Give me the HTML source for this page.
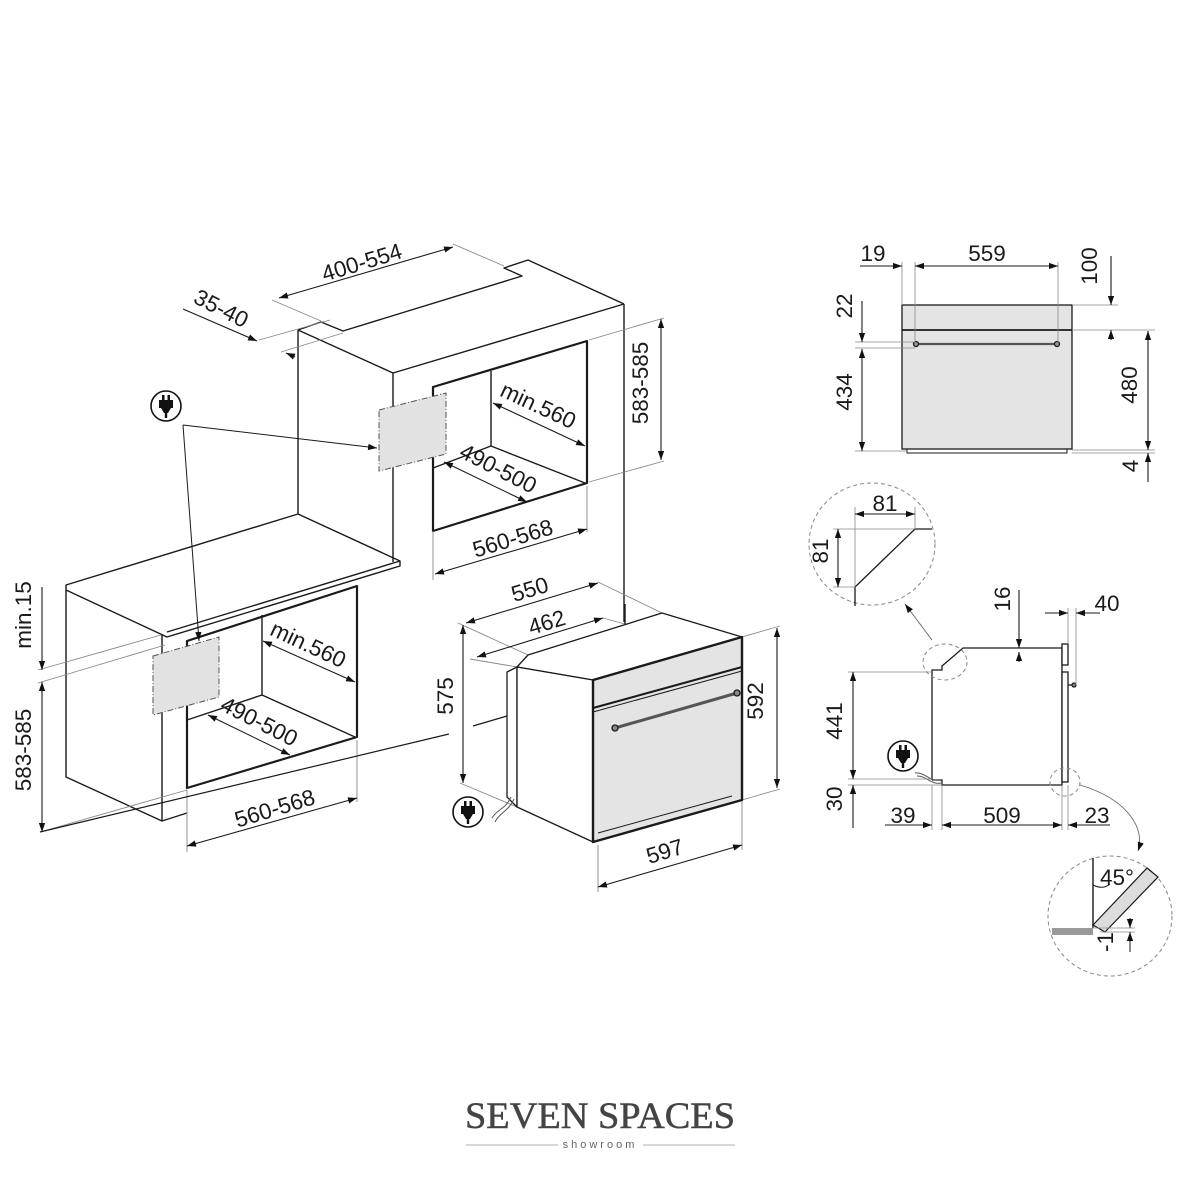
<!DOCTYPE html>
<html><head><meta charset="utf-8"><style>
html,body{margin:0;padding:0;background:#fff}
svg{display:block}
text{font-family:"Liberation Sans",sans-serif;fill:#1a1a1a}
.d{font-size:22.5px}
</style></head><body>
<svg width="1200" height="1200" viewBox="0 0 1200 1200" xmlns="http://www.w3.org/2000/svg">
<defs>
<marker id="a" viewBox="0 0 10 10" refX="10" refY="5" markerWidth="9" markerHeight="9" orient="auto-start-reverse" markerUnits="userSpaceOnUse"><path d="M0,1.5 L10,5 L0,8.5 z" fill="#111"/></marker>
<g id="plug"><circle r="15" fill="#fff" stroke="#111" stroke-width="1.6"/><rect x="-7" y="-6" width="14" height="8" fill="#111"/><rect x="-4" y="-11" width="2.5" height="6" fill="#111"/><rect x="1.5" y="-11" width="2.5" height="6" fill="#111"/><path d="M-5,2 L5,2 L2,7 L-2,7z" fill="#111"/><rect x="-1.2" y="6" width="2.4" height="6" fill="#111"/></g>
</defs>
<g fill="none" stroke="#1a1a1a" stroke-width="1.4" stroke-linejoin="round">
<polyline points="298,330 321,322 343,331 522,276 504,268 528,260 624,304"/>
<line x1="298" y1="330" x2="393" y2="373"/>
<line x1="393" y1="373" x2="624" y2="304"/>
<line x1="298" y1="330" x2="298" y2="514"/>
<line x1="393" y1="373" x2="393" y2="562"/>
<line x1="624" y1="304" x2="624" y2="622"/>
<polygon points="433,387 587,341 587,483 433,531" stroke-width="2.2"/>
<polyline points="491,371 491,446 585,483"/>
<line x1="433" y1="468" x2="491" y2="446"/>
<polygon points="66,585 298,514 400,561 400,566 167,637 66,590"/>
<line x1="167" y1="632" x2="400" y2="561"/>
<polyline points="66,590 66,777 162,821 162,635"/>
<polygon points="187,641 357,586 357,737 187,788" stroke-width="2.2"/>
<polyline points="262,615 262,695 355,737"/>
<line x1="187" y1="720" x2="262" y2="695"/>
<line x1="162" y1="821" x2="187" y2="813"/>
</g>
<polygon points="379,410 446,393 446,454 379,471" fill="#e2e2e2" stroke="#555" stroke-width="1" stroke-dasharray="6,2,1,2"/>
<polygon points="153,656 219,637 219,697 153,715" fill="#e2e2e2" stroke="#555" stroke-width="1" stroke-dasharray="6,2,1,2"/>
<g stroke="#888" stroke-width="0.9" fill="none">
<line x1="272" y1="300" x2="321" y2="321"/><line x1="453" y1="244" x2="504" y2="266"/>
<line x1="259" y1="340" x2="330" y2="320"/><line x1="281" y1="352" x2="343" y2="333"/>
<line x1="589" y1="340" x2="664" y2="318"/><line x1="589" y1="482" x2="664" y2="461"/>
<line x1="433" y1="531" x2="433" y2="580"/><line x1="587" y1="486" x2="587" y2="532"/>
<line x1="38" y1="670" x2="161" y2="635"/><line x1="38" y1="683" x2="165" y2="645"/>
<line x1="40" y1="832" x2="187" y2="790"/>
<line x1="187" y1="790" x2="187" y2="852"/><line x1="357" y1="740" x2="357" y2="802"/>
<line x1="598" y1="582" x2="662" y2="613"/><line x1="458" y1="623" x2="528" y2="655"/>
<line x1="603" y1="618" x2="625" y2="624"/><line x1="470" y1="659" x2="517" y2="667"/>
<line x1="742" y1="637" x2="780" y2="626"/><line x1="742" y1="800" x2="780" y2="789"/>
<line x1="598" y1="845" x2="598" y2="892"/><line x1="742" y1="800" x2="742" y2="850"/>
<line x1="460" y1="783" x2="517" y2="807"/>
</g>
<g stroke="#1a1a1a" stroke-width="1.2">
<line x1="40" y1="832" x2="449" y2="734"/><line x1="473" y1="726" x2="507" y2="716"/>
</g>
<g stroke="#1a1a1a" stroke-width="1" fill="none">
<line x1="183" y1="425" x2="377" y2="448" marker-end="url(#a)"/>
<line x1="183" y1="425" x2="199" y2="641" marker-end="url(#a)"/>
</g>
<use href="#plug" x="166" y="406"/>
<g stroke="#1a1a1a" stroke-width="1.1" fill="none">
<line x1="279" y1="298" x2="453" y2="247" marker-start="url(#a)" marker-end="url(#a)"/>
<line x1="183" y1="309" x2="257" y2="341" marker-end="url(#a)"/>
<line x1="295" y1="357" x2="286" y2="353" marker-end="url(#a)"/>
<line x1="661" y1="319" x2="661" y2="460" marker-start="url(#a)" marker-end="url(#a)"/>
<line x1="493" y1="403" x2="585" y2="446" marker-start="url(#a)" marker-end="url(#a)"/>
<line x1="444" y1="462" x2="527" y2="502" marker-start="url(#a)" marker-end="url(#a)"/>
<line x1="435" y1="574" x2="587" y2="529" marker-start="url(#a)" marker-end="url(#a)"/>
<line x1="42" y1="587" x2="42" y2="670" marker-end="url(#a)"/>
<line x1="42" y1="682" x2="42" y2="832" marker-start="url(#a)" marker-end="url(#a)"/>
<line x1="263" y1="641" x2="355" y2="682" marker-start="url(#a)" marker-end="url(#a)"/>
<line x1="208" y1="715" x2="290" y2="755" marker-start="url(#a)" marker-end="url(#a)"/>
<line x1="187" y1="846" x2="357" y2="798" marker-start="url(#a)" marker-end="url(#a)"/>
<line x1="466" y1="623" x2="598" y2="583" marker-start="url(#a)" marker-end="url(#a)"/>
<line x1="477" y1="657" x2="603" y2="618" marker-start="url(#a)" marker-end="url(#a)"/>
<line x1="463" y1="625" x2="463" y2="783" marker-start="url(#a)" marker-end="url(#a)"/>
<line x1="777" y1="628" x2="777" y2="788" marker-start="url(#a)" marker-end="url(#a)"/>
<line x1="598" y1="887" x2="742" y2="845" marker-start="url(#a)" marker-end="url(#a)"/>
</g>
<g stroke="#1a1a1a" stroke-width="1.3" fill="#fff" stroke-linejoin="round">
<polygon points="507,672 517,667 517,807 507,797"/>
<polygon points="528,655 662,613 742,637 593,680 517,667"/>
<polygon points="517,667 593,680 593,842 517,807"/>
<polygon points="593,680 742,637 742,800 593,842" fill="#e4e4e4" stroke-width="2.4"/>
<line x1="593" y1="708" x2="742" y2="667" stroke-width="2"/>
<line x1="593" y1="712" x2="742" y2="671" stroke-width="1"/>
<line x1="615" y1="728" x2="737" y2="693" stroke="#555" stroke-width="3"/>
<circle cx="615" cy="728" r="3" fill="#888"/><circle cx="737" cy="693" r="3" fill="#888"/>
<line x1="598" y1="833" x2="732" y2="796" stroke-width="1"/>
</g>
<path d="M511,797 C505,810 498,808 492,818 M514,799 C508,812 500,812 495,822" stroke="#555" fill="none" stroke-width="1"/>
<line x1="625" y1="604" x2="625" y2="624" stroke="#1a1a1a" stroke-width="1.4"/>
<use href="#plug" x="468" y="812"/>
<g class="d">
<text x="362" y="270" text-anchor="middle" transform="rotate(-17 362 263)">400-554</text>
<text x="221" y="316" text-anchor="middle" transform="rotate(27 221 309)">35-40</text>
<text x="655" y="390" text-anchor="middle" transform="rotate(-90 648 390)">583-585</text>
<text x="538" y="413" text-anchor="middle" transform="rotate(25 538 406)">min.560</text>
<text x="498" y="476" text-anchor="middle" transform="rotate(27 498 469)">490-500</text>
<text x="513" y="546" text-anchor="middle" transform="rotate(-17 513 539)">560-568</text>
<text x="38" y="622" text-anchor="middle" transform="rotate(-90 31 622)">min.15</text>
<text x="38" y="757" text-anchor="middle" transform="rotate(-90 31 757)">583-585</text>
<text x="308" y="652" text-anchor="middle" transform="rotate(25 308 645)">min.560</text>
<text x="259" y="729" text-anchor="middle" transform="rotate(27 259 722)">490-500</text>
<text x="275" y="816" text-anchor="middle" transform="rotate(-17 275 809)">560-568</text>
<text x="530" y="597" text-anchor="middle" transform="rotate(-17 530 590)">550</text>
<text x="547" y="630" text-anchor="middle" transform="rotate(-17 547 623)">462</text>
<text x="460" y="703" text-anchor="middle" transform="rotate(-90 453 703)">575</text>
<text x="770" y="708" text-anchor="middle" transform="rotate(-90 763 708)">592</text>
<text x="665" y="859" text-anchor="middle" transform="rotate(-17 665 852)">597</text>
</g>
<g stroke="#1a1a1a" stroke-width="1.3">
<rect x="902" y="305" width="170" height="144" fill="#e4e4e4"/>
<line x1="902" y1="330" x2="1072" y2="330" stroke-width="1.8"/>
<polyline points="907,449 907,453 1067,453 1067,449" fill="none" stroke-width="1"/>
<line x1="915" y1="344" x2="1058" y2="344" stroke="#555" stroke-width="2.2"/>
<circle cx="916" cy="344" r="2.5" fill="#999"/><circle cx="1057" cy="344" r="2.5" fill="#999"/>
</g>
<g stroke="#888" stroke-width="0.8" fill="none">
<line x1="902" y1="262" x2="902" y2="305"/><line x1="915" y1="262" x2="915" y2="344"/><line x1="1058" y1="262" x2="1058" y2="344"/>
<line x1="1072" y1="305" x2="1118" y2="305"/><line x1="1072" y1="330" x2="1155" y2="330"/>
<line x1="1072" y1="450" x2="1155" y2="450"/><line x1="1072" y1="453" x2="1155" y2="453"/>
<line x1="855" y1="342" x2="915" y2="342"/><line x1="855" y1="348" x2="915" y2="348"/><line x1="855" y1="451" x2="907" y2="451"/>
</g>
<g stroke="#1a1a1a" stroke-width="1.1" fill="none">
<line x1="860" y1="266" x2="902" y2="266" marker-end="url(#a)"/>
<line x1="915" y1="266" x2="1058" y2="266" marker-start="url(#a)" marker-end="url(#a)"/>
<line x1="1111" y1="256" x2="1111" y2="305" marker-end="url(#a)"/>
<line x1="1111" y1="340" x2="1111" y2="330" marker-end="url(#a)"/>
<line x1="1148" y1="331" x2="1148" y2="450" marker-start="url(#a)" marker-end="url(#a)"/>
<line x1="1148" y1="482" x2="1148" y2="453" marker-end="url(#a)"/>
<line x1="862" y1="301" x2="862" y2="342" marker-end="url(#a)"/>
<line x1="862" y1="349" x2="862" y2="451" marker-start="url(#a)" marker-end="url(#a)"/>
</g>
<ellipse cx="872" cy="544" rx="63" ry="61" fill="none" stroke="#888" stroke-width="1" stroke-dasharray="4,3"/>
<polyline points="855,606 855,587 915,529 932,529" fill="none" stroke="#1a1a1a" stroke-width="1.3"/>
<g stroke="#888" stroke-width="0.8"><line x1="855" y1="507" x2="855" y2="587"/><line x1="915" y1="507" x2="915" y2="529"/><line x1="833" y1="529" x2="915" y2="529"/><line x1="833" y1="587" x2="855" y2="587"/></g>
<g stroke="#1a1a1a" stroke-width="1.1">
<line x1="855" y1="514" x2="915" y2="514" marker-start="url(#a)" marker-end="url(#a)"/>
<line x1="838" y1="529" x2="838" y2="587" marker-start="url(#a)" marker-end="url(#a)"/>
</g>
<line x1="932" y1="640" x2="905" y2="604" stroke="#666" stroke-width="0.9" marker-end="url(#a)"/>
<g stroke="#1a1a1a" stroke-width="1.3" fill="#fff">
<polyline points="932,780 932,670 942,670 942,666 963,648 1062,648 1062,785 942,785 942,780 932,780"/>
<rect x="1062" y="644" width="6" height="21"/>
<rect x="1062" y="672" width="6" height="110"/>
<line x1="1068" y1="685" x2="1074" y2="685"/><circle cx="1074" cy="685" r="2" fill="#888"/>
</g>
<ellipse cx="945" cy="662" rx="22" ry="18" fill="none" stroke="#888" stroke-dasharray="4,3"/>
<ellipse cx="1065" cy="782" rx="15" ry="14" fill="none" stroke="#888" stroke-dasharray="4,3"/>
<path d="M915,773 C925,772 930,782 940,780 M917,776 C927,776 931,785 941,783" stroke="#555" fill="none" stroke-width="1"/>
<use href="#plug" x="903" y="756"/>
<g stroke="#888" stroke-width="0.8">
<line x1="848" y1="672" x2="932" y2="672"/><line x1="848" y1="779" x2="932" y2="779"/><line x1="848" y1="785" x2="942" y2="785"/>
<line x1="932" y1="785" x2="932" y2="830"/><line x1="942" y1="785" x2="942" y2="830"/><line x1="1062" y1="785" x2="1062" y2="830"/><line x1="1068" y1="785" x2="1068" y2="830"/>
<line x1="1068" y1="608" x2="1068" y2="644"/><line x1="1076" y1="608" x2="1076" y2="685"/>
</g>
<g stroke="#1a1a1a" stroke-width="1.1" fill="none">
<line x1="1019" y1="590" x2="1019" y2="648" marker-end="url(#a)"/>
<line x1="1019" y1="662" x2="1019" y2="652" marker-end="url(#a)"/>
<line x1="1045" y1="613" x2="1068" y2="613" marker-end="url(#a)"/>
<line x1="1100" y1="613" x2="1076" y2="613" marker-end="url(#a)"/>
<line x1="853" y1="672" x2="853" y2="779" marker-start="url(#a)" marker-end="url(#a)"/>
<line x1="853" y1="828" x2="853" y2="785" marker-end="url(#a)"/>
<line x1="885" y1="825" x2="932" y2="825" marker-end="url(#a)"/>
<line x1="942" y1="825" x2="1062" y2="825" marker-start="url(#a)" marker-end="url(#a)"/>
<line x1="1110" y1="825" x2="1068" y2="825" marker-end="url(#a)"/>
</g>
<path d="M1080,785 C1130,800 1145,830 1138,851" stroke="#666" fill="none" stroke-width="0.9" marker-end="url(#a)"/>
<ellipse cx="1110" cy="916" rx="62" ry="60" fill="none" stroke="#888" stroke-dasharray="4,3"/>
<rect x="1052" y="928" width="41" height="7" fill="#999"/>
<line x1="1093" y1="858" x2="1093" y2="928" stroke="#1a1a1a" stroke-width="1.4"/>
<polygon points="1093,925 1147,868 1158,877 1105,932" fill="#ddd" stroke="#1a1a1a" stroke-width="1.2"/>
<path d="M1093,885 Q1103,890 1110,884" stroke="#1a1a1a" fill="none" stroke-width="1"/>
<g stroke="#888" stroke-width="0.8"><line x1="1100" y1="932" x2="1135" y2="932"/><line x1="1093" y1="928" x2="1135" y2="928"/></g>
<line x1="1130" y1="918" x2="1130" y2="928" stroke="#1a1a1a" marker-end="url(#a)"/>
<line x1="1130" y1="952" x2="1130" y2="932" stroke="#1a1a1a" marker-end="url(#a)"/>
<g class="d">
<text x="873" y="261" text-anchor="middle">19</text>
<text x="987" y="261" text-anchor="middle">559</text>
<text x="1104" y="273" text-anchor="middle" transform="rotate(-90 1097 273)">100</text>
<text x="1144" y="392" text-anchor="middle" transform="rotate(-90 1137 392)">480</text>
<text x="1145" y="473" text-anchor="middle" transform="rotate(-90 1138 473)">4</text>
<text x="859" y="313" text-anchor="middle" transform="rotate(-90 852 313)">22</text>
<text x="859" y="399" text-anchor="middle" transform="rotate(-90 852 399)">434</text>
<text x="885" y="511" text-anchor="middle">81</text>
<text x="835" y="558" text-anchor="middle" transform="rotate(-90 828 558)">81</text>
<text x="1017" y="606" text-anchor="middle" transform="rotate(-90 1010 606)">16</text>
<text x="1107" y="611" text-anchor="middle">40</text>
<text x="849" y="728" text-anchor="middle" transform="rotate(-90 842 728)">441</text>
<text x="849" y="806" text-anchor="middle" transform="rotate(-90 842 806)">30</text>
<text x="903" y="823" text-anchor="middle">39</text>
<text x="1002" y="823" text-anchor="middle">509</text>
<text x="1097" y="823" text-anchor="middle">23</text>
<text x="1117" y="885" text-anchor="middle">45°</text>
<text x="1120" y="949" text-anchor="middle" transform="rotate(-90 1113 949)">-1</text>
</g>
<text x="600" y="1128" text-anchor="middle" textLength="270" lengthAdjust="spacingAndGlyphs" style="font-family:'Liberation Serif',serif;font-size:37px;fill:#444;stroke:#444;stroke-width:0.5">SEVEN SPACES</text>
<text x="600" y="1148" text-anchor="middle" style="font-family:'Liberation Sans',sans-serif;font-size:11px;letter-spacing:3px;fill:#666">showroom</text>
<line x1="466" y1="1145" x2="558" y2="1145" stroke="#999" stroke-width="0.8"/>
<line x1="643" y1="1145" x2="735" y2="1145" stroke="#999" stroke-width="0.8"/>
</svg>
</body></html>
